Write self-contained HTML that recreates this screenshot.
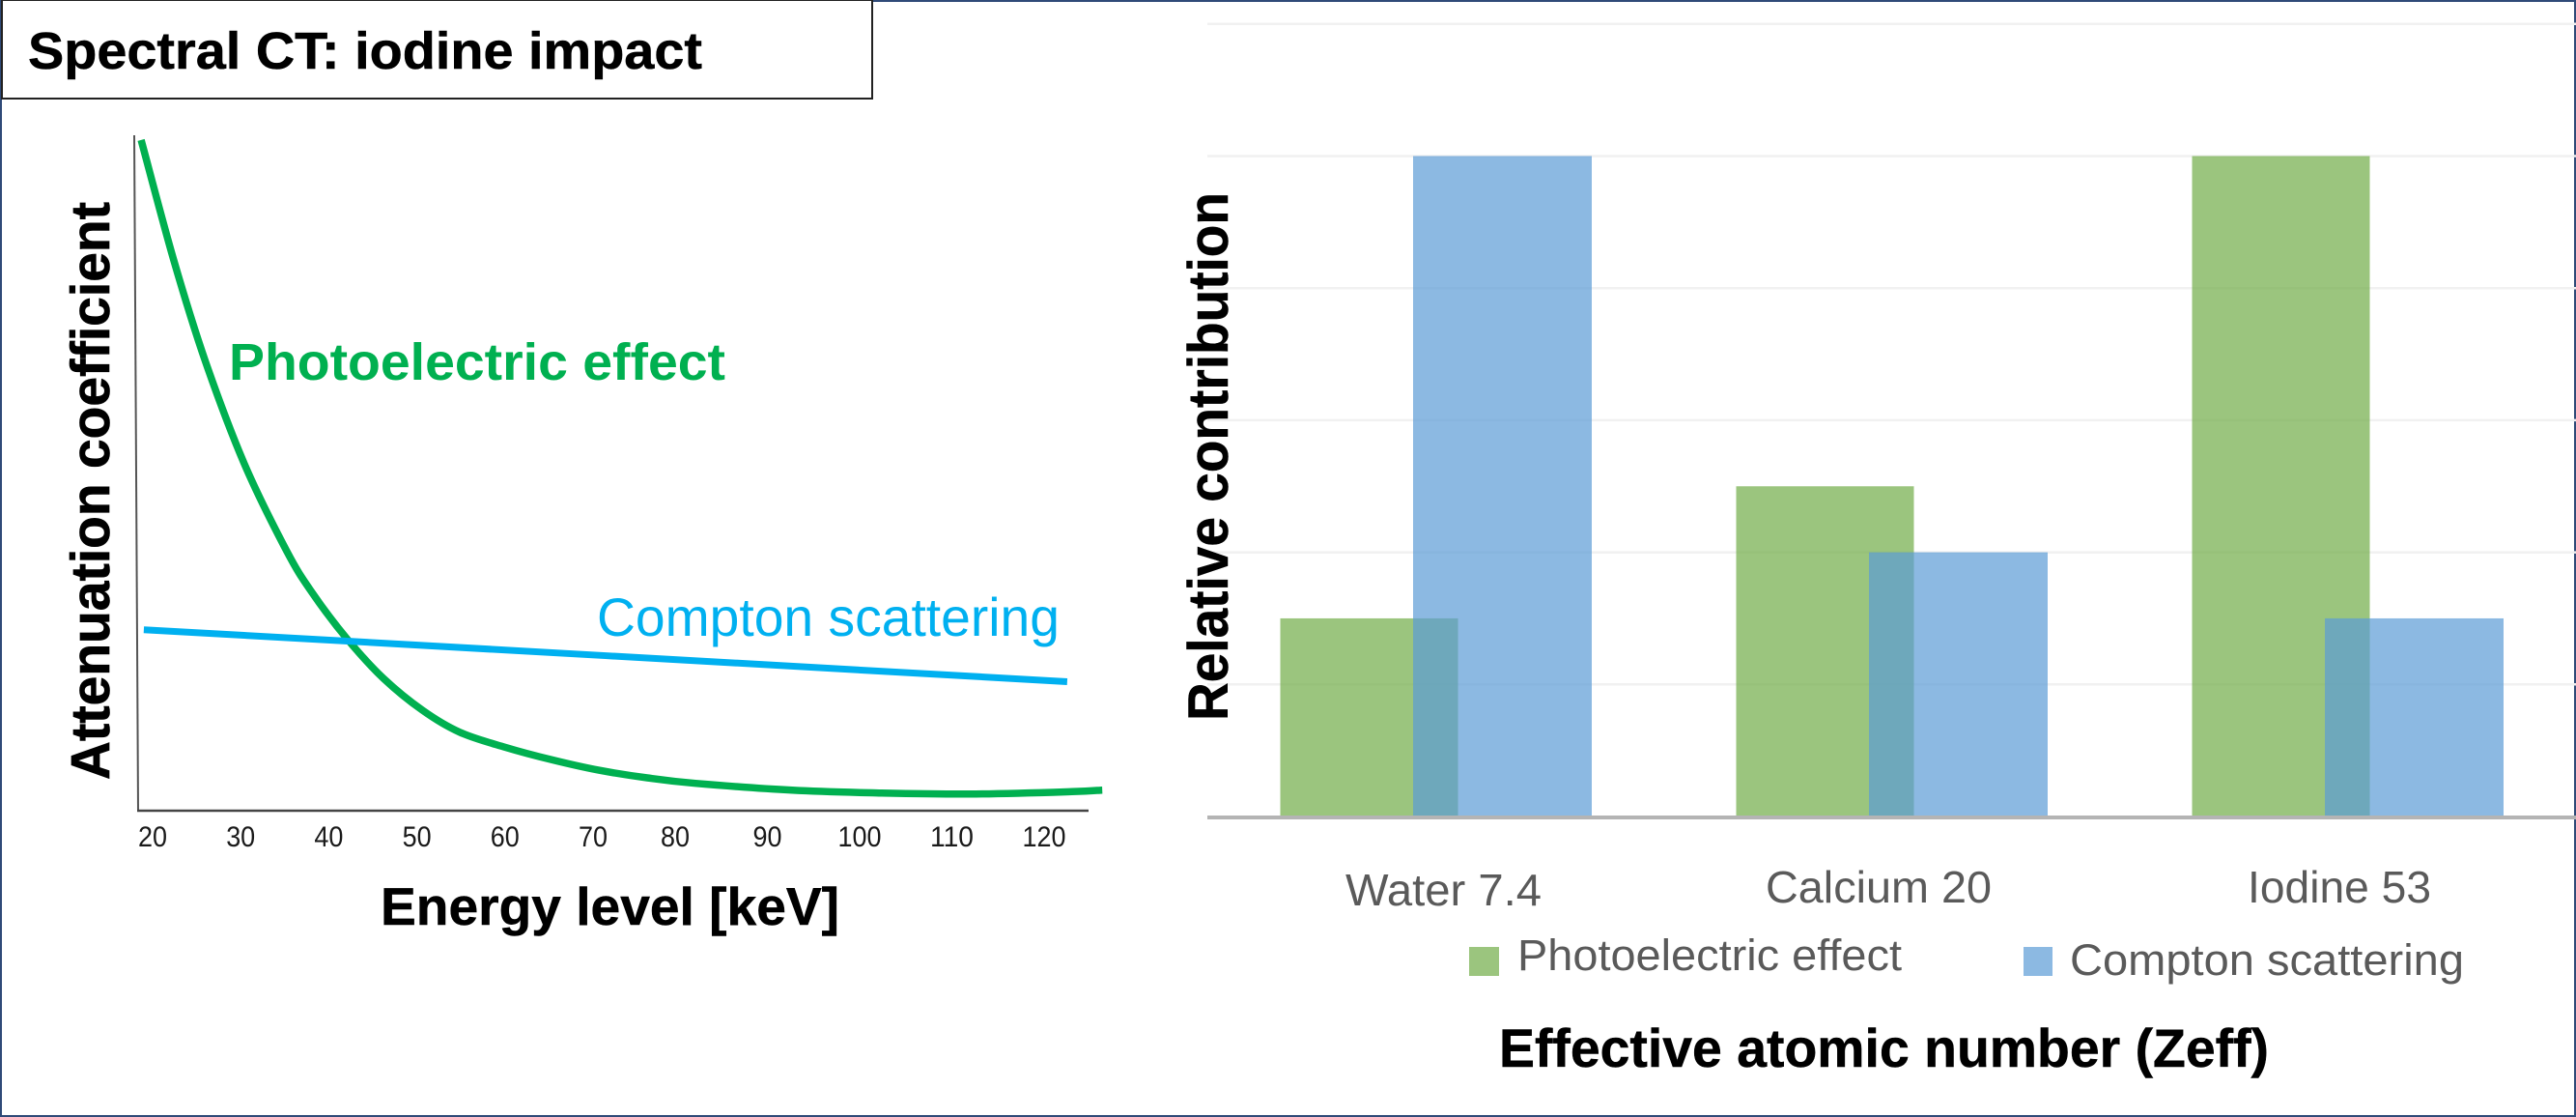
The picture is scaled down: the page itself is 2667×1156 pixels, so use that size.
<!DOCTYPE html>
<html lang="en">
<head>
<meta charset="utf-8">
<title>Spectral CT: iodine impact</title>
<style>
html,body{margin:0;padding:0;background:#fff;width:2667px;height:1156px;overflow:hidden}
svg{display:block;font-family:"Liberation Sans",Arial,sans-serif}
</style>
</head>
<body>
<svg id="figure" xmlns="http://www.w3.org/2000/svg" width="2667" height="1156" viewBox="0 0 2667 1156">
  <rect x="1" y="1" width="2665" height="1154" fill="#fff" stroke="#2f4a78" stroke-width="2"/>
  <g id="left-chart"></g>
  <g id="right-chart"></g>

  <rect x="2" y="0" width="901" height="102" fill="#fff" stroke="#222" stroke-width="2"/>
  <text x="29" y="71" font-size="54" font-weight="bold" fill="#000" stroke="#000" stroke-width="0.5" textLength="698" lengthAdjust="spacingAndGlyphs">Spectral CT: iodine impact</text>

  <text x="237" y="393" font-size="54" font-weight="bold" fill="#00b050" textLength="514" lengthAdjust="spacingAndGlyphs">Photoelectric effect</text>
  <text x="618" y="658" font-size="56" fill="#00b0f0" textLength="479" lengthAdjust="spacingAndGlyphs">Compton scattering</text>
  <text transform="translate(113 807) rotate(-90)" font-size="57" font-weight="bold" fill="#000" stroke="#000" stroke-width="0.7" textLength="598" lengthAdjust="spacingAndGlyphs">Attenuation coefficient</text>
  <text x="394" y="957" font-size="55" font-weight="bold" fill="#000" stroke="#000" stroke-width="0.5" textLength="475" lengthAdjust="spacingAndGlyphs">Energy level [keV]</text>

  <text transform="translate(1271 746) rotate(-90)" font-size="58" font-weight="bold" fill="#000" stroke="#000" stroke-width="0.5" textLength="547" lengthAdjust="spacingAndGlyphs">Relative contribution</text>

  <text x="1393" y="937" font-size="46" fill="#5a5a5a" textLength="203" lengthAdjust="spacingAndGlyphs">Water 7.4</text>
  <text x="1828" y="934" font-size="46" fill="#5a5a5a" textLength="234" lengthAdjust="spacingAndGlyphs">Calcium 20</text>
  <text x="2327" y="934" font-size="46" fill="#5a5a5a" textLength="190" lengthAdjust="spacingAndGlyphs">Iodine 53</text>

  <rect x="1521" y="980" width="31" height="30" fill="#70ad47" fill-opacity="0.7"/>
  <text x="1571" y="1004" font-size="45" fill="#5a5a5a" textLength="398" lengthAdjust="spacingAndGlyphs">Photoelectric effect</text>
  <rect x="2095" y="980" width="30" height="30" fill="#5b9bd5" fill-opacity="0.7"/>
  <text x="2143" y="1009" font-size="45" fill="#5a5a5a" textLength="408" lengthAdjust="spacingAndGlyphs">Compton scattering</text>
  <text x="1552" y="1104" font-size="56" font-weight="bold" fill="#000" stroke="#000" stroke-width="0.5" textLength="797" lengthAdjust="spacingAndGlyphs">Effective atomic number (Zeff)</text>
</svg>
<script>
// Left chart data (energy in keV, attenuation in arbitrary units)
const energyTicks = [20, 30, 40, 50, 60, 70, 80, 90, 100, 110, 120];
const photoEnergy = [18.7, 22.4, 26.0, 30.4, 35.2, 38.1, 42.1, 46.2, 50.6, 54.9, 60.0, 65.2, 70.7, 76.6, 82.2, 92.7, 102.1, 112.6, 123.0, 126.3];
const photoAttenuation = [99.3, 81.5, 66.5, 51.4, 38.5, 32.3, 25.4, 19.6, 14.9, 11.6, 9.4, 7.58, 6.0, 4.86, 4.05, 3.03, 2.62, 2.47, 2.82, 3.05];
const comptonEnergy = [19.0, 122.5];
const comptonAttenuation = [26.8, 19.1];

// Right chart data (relative contribution units)
const materials = ['water', 'calcium', 'iodine'];
const photoContribution = [1.5, 2.5, 5];
const comptonContribution = [5, 2, 1.5];
const contributionGrid = [1, 2, 3, 4, 5, 6];

const NS = 'http://www.w3.org/2000/svg';
function mk(parent, tag, attrs, text) {
  const el = document.createElementNS(NS, tag);
  for (const k in attrs) el.setAttribute(k, attrs[k]);
  if (text !== undefined) el.textContent = text;
  parent.appendChild(el);
  return el;
}

// Axis functions: left chart
function xEnergy(k) {
  if (k <= 70) return 158 + (k - 20) * 9.12;
  if (k <= 80) return 614 + (k - 70) * 8.5;
  return 699 + (k - 80) * 9.55;
}
function yAtten(v) { return 839 - v * 6.99; }

// Axis functions: right chart
function xMaterial(i) { return 1487 + i * 472; }
function yContribution(v) { return 845 - v * 136.7; }

function smoothPath(xs, ys) {
  let d = 'M' + xs[0].toFixed(1) + ' ' + ys[0].toFixed(1);
  for (let i = 0; i < xs.length - 1; i++) {
    const x0 = xs[Math.max(i - 1, 0)], y0 = ys[Math.max(i - 1, 0)];
    const x1 = xs[i], y1 = ys[i], x2 = xs[i + 1], y2 = ys[i + 1];
    const x3 = xs[Math.min(i + 2, xs.length - 1)], y3 = ys[Math.min(i + 2, xs.length - 1)];
    d += ' C' + (x1 + (x2 - x0) / 6).toFixed(1) + ' ' + (y1 + (y2 - y0) / 6).toFixed(1) +
         ' ' + (x2 - (x3 - x1) / 6).toFixed(1) + ' ' + (y2 - (y3 - y1) / 6).toFixed(1) +
         ' ' + x2.toFixed(1) + ' ' + y2.toFixed(1);
  }
  return d;
}

const left = document.getElementById('left-chart');
const right = document.getElementById('right-chart');

// Left axes
const yAxisLine = mk(left, 'line', {x1: 139, y1: 140, x2: 143, y2: 839, stroke: '#555', 'stroke-width': 2});


const xAxisLine = mk(left, 'line', {x1: 142, y1: 839, x2: 1127, y2: 839, stroke: '#444', 'stroke-width': 2.5});



energyTicks.forEach(function (t) {
  const label = String(t);
  const tick = mk(left, 'text', {
    x: xEnergy(t), y: 876, 'text-anchor': 'middle', 'font-size': 30, fill: '#1a1a1a',
    textLength: label.length * 15, lengthAdjust: 'spacingAndGlyphs'
  }, label);
  
  
});

// Left series
const photoCurve = mk(left, 'path', {
  d: smoothPath(photoEnergy.map(xEnergy), photoAttenuation.map(yAtten)),
  fill: 'none', stroke: '#00b050', 'stroke-width': 7.5
});


const comptonLine = mk(left, 'path', {
  d: smoothPath(comptonEnergy.map(xEnergy), comptonAttenuation.map(yAtten)),
  fill: 'none', stroke: '#00b0f0', 'stroke-width': 7
});



// Right grid
contributionGrid.forEach(function (g) {
  const line = mk(right, 'line', {x1: 1250, x2: 2667, y1: yContribution(g), y2: yContribution(g), stroke: '#f1f1f1', 'stroke-width': 2.5});
  
  
});

// Right bars
const barWidth = 184;
materials.forEach(function (m, i) {
  const cx = xMaterial(i);
  const gTop = yContribution(photoContribution[i]);
  const gBar = mk(right, 'rect', {x: cx - 161.5, y: gTop, width: barWidth, height: yContribution(0) - gTop, fill: '#70ad47', 'fill-opacity': 0.7});
  
  
  const bTop = yContribution(comptonContribution[i]);
  const bBar = mk(right, 'rect', {x: cx - 24, y: bTop, width: barWidth + 1, height: yContribution(0) - bTop, fill: '#5b9bd5', 'fill-opacity': 0.7});
  
  
});

const baseLine = mk(right, 'line', {x1: 1250, x2: 2667, y1: yContribution(0) + 1, y2: yContribution(0) + 1, stroke: '#b4b4b4', 'stroke-width': 4});


</script>
</body>
</html>
